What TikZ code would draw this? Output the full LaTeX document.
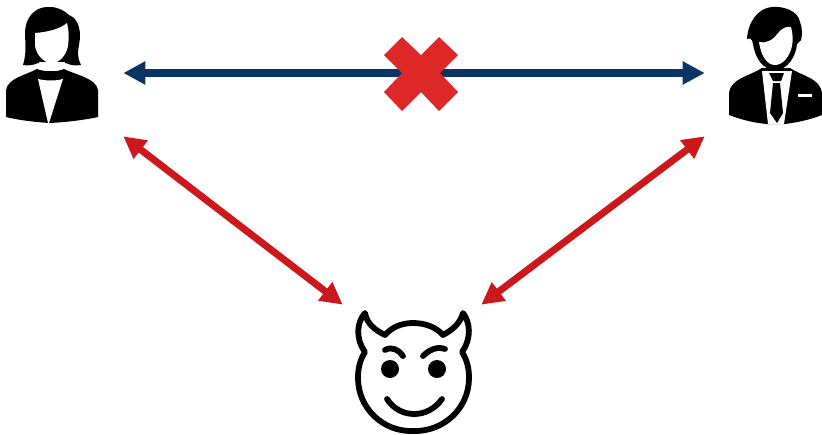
\documentclass[tikz,border=0pt]{standalone}
\usepackage{xcolor}
\usetikzlibrary{arrows.meta, positioning}
\definecolor{navyline}{HTML}{0B3363}
\definecolor{redline}{HTML}{CC171D}
\definecolor{crossred}{HTML}{DE2727}

\begin{document}
\begin{tikzpicture}[
  x=0.02cm, y=-0.02cm,
  party/.style={minimum width=2.84cm, minimum height=2.52cm, inner sep=0pt},
  attacker/.style={minimum width=2.76cm, minimum height=2.6cm, inner sep=0pt},
  arr/.style={{Triangle[length=0.44cm, width=0.44cm]}-{Triangle[length=0.44cm, width=0.44cm]}, line width=4pt},
  safe/.style={arr, navyline},
  attack/.style={arr, redline},
  ink/.style={fill=black, draw=none},
  blank/.style={fill=white, draw=none},
  outline/.style={draw=black, line width=3.3pt, line cap=round, line join=round}
]
  \useasboundingbox (0,0) rectangle (822,434);

  \node[party] (woman) at (52,73) {};
  \node[party] (man) at (776,73) {};
  \node[attacker] (devil) at (412,370) {};

  \draw[safe] (woman.east) -- (man.west);
  \draw[attack] (woman.south east) -- (devil.north west);
  \draw[attack] (man.south west) -- (devil.north east);

  % cross
  \node[inner sep=0pt] (cross) at (421,73) {};
  \fill[crossred] (402,37) -- (421,55) -- (439,37) -- (458,55) -- (440,73) -- (458,92) -- (439,111)
    -- (421,92) -- (402,111) -- (384,92) -- (402,73) -- (384,55) -- cycle;

  % woman
  \fill[ink] (37,69) .. controls (26,75) and (8,78) .. (6,90) -- (6,117) .. controls (18,120) and (34,122) .. (50,123)
    .. controls (68,122) and (84,120) .. (98,117) -- (98,90) .. controls (96,78) and (76,75) .. (64,69)
    .. controls (58,72) and (44,72) .. (37,69) -- cycle;
  \fill[ink] (23,65) .. controls (27,52) and (25,42) .. (25,32) .. controls (26,14) and (38,6) .. (50,7)
    .. controls (58,7) and (65,11) .. (69,15) .. controls (75,17) and (80,24) .. (80,36)
    .. controls (80,46) and (75,53) .. (81,65) .. controls (74,66) and (70,65) .. (66,63)
    -- (38,63) .. controls (34,65) and (28,66) .. (23,65) -- cycle;
  \fill[blank] (39,62) -- (65,62) -- (63,67) .. controls (56,69) and (47,69) .. (41,67) -- cycle;
  \fill[blank] (35,33) .. controls (48,32) and (60,29) .. (67,23) .. controls (69,30) and (69,38) .. (68,46)
    .. controls (66,56) and (59,63) .. (52,63) .. controls (44,63) and (37,56) .. (35,46) -- cycle;
  \fill[blank] (38,79) .. controls (46,81) and (56,81) .. (63,79) -- (49,123) -- (48,123) -- cycle;

  % man
  \fill[ink] (762,68) .. controls (750,76) and (731,78) .. (729,93) -- (729,115) .. controls (742,120) and (755,123) .. (767,124)
    -- (785,124) .. controls (800,122) and (812,119) .. (822,115) -- (822,93) .. controls (820,78) and (802,76) .. (790,68) -- cycle;
  \fill[blank] (762,71) -- (792,71) -- (784,124) -- (768,124) -- cycle;
  \fill[ink] (769,73) -- (784,73) -- (781,81) -- (773,81) -- cycle;
  \fill[ink] (773,83) -- (780,83) -- (783,113) -- (777,123) -- (770,113) -- cycle;
  \fill[blank] (798,94) rectangle (812,97);
  \fill[ink] (747,39) .. controls (748,22) and (758,8) .. (772,7) .. controls (782,6) and (798,10) .. (800,22)
    .. controls (803,30) and (802,36) .. (801,40) -- (797,44) .. controls (796,56) and (788,70) .. (775,70)
    .. controls (763,70) and (755,58) .. (753,44) .. controls (752,38) and (750,38) .. (747,39) -- cycle;
  \fill[blank] (759,42) .. controls (766,44) and (773,40) .. (778,33) .. controls (782,28) and (787,26) .. (791,27)
    .. controls (793,34) and (793,40) .. (792,46) .. controls (790,56) and (783,65) .. (775,65)
    .. controls (767,65) and (761,56) .. (759,42) -- cycle;

  % devil
  \draw[outline] (365,313) .. controls (367,324) and (375,330) .. (385,335) .. controls (392,327) and (402,323) .. (413,323)
    .. controls (425,323) and (436,327) .. (443,335) .. controls (452,330) and (460,324) .. (463,313)
    .. controls (470,322) and (472,338) .. (462,352) .. controls (467,360) and (469,368) .. (469,378)
    .. controls (469,408) and (444,432) .. (413,431) .. controls (383,432) and (358,408) .. (358,378)
    .. controls (358,368) and (360,360) .. (365,352) .. controls (355,338) and (357,322) .. (365,313) -- cycle;
  \fill[ink] (390,369) circle (9) (437,369) circle (9);
  \draw[outline] (385,350) .. controls (392,346) and (399,350) .. (403,356);
  \draw[outline] (423,356) .. controls (429,350) and (437,346) .. (445,349);
  \draw[outline] (387,399) .. controls (400,419) and (428,419) .. (442,399);
\end{tikzpicture}
\end{document}
